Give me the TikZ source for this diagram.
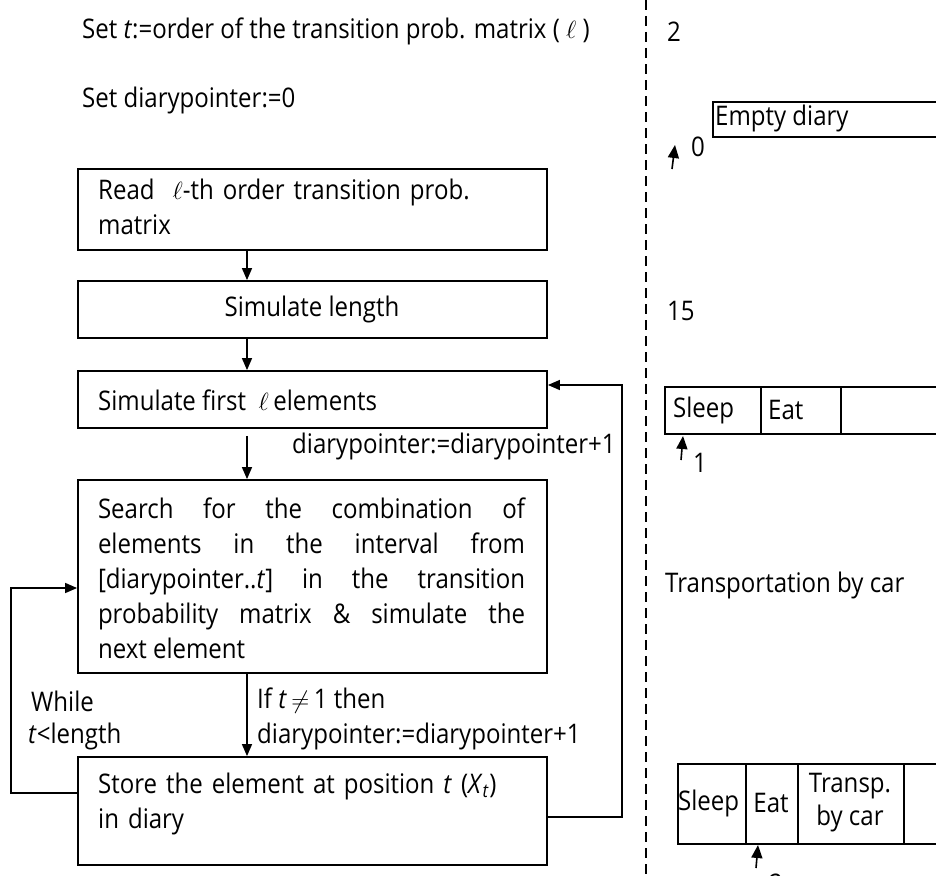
\documentclass[tikz,border=0pt]{standalone}
\usepackage{fontspec}
\setmainfont[FakeStretch=0.89]{Open Sans}
\usetikzlibrary{arrows.meta}
\begin{document}
\begin{tikzpicture}[x=1pt,y=-1pt,
  font=\fontsize{27}{35}\selectfont,
  txt/.style={inner sep=0pt},
  box/.style={draw, line width=1.8pt, minimum width=469pt, inner sep=0pt},
  cell/.style={draw, line width=1.8pt, inner sep=0pt},
  flow/.style={line width=1.4pt, -{Triangle[width=10pt,length=12pt]}},
  ptr/.style={line width=1.6pt, -{Triangle[width=11pt,length=13pt]}},
  dashline/.style={line width=1.6pt, dash pattern=on 10pt off 6pt}]

\useasboundingbox (0,0) rectangle (936,875);
\clip (0,0) rectangle (936,875);

% ---- left column: initialisation lines ----
\node[txt, anchor=west] (sett) at (82,31) {Set \textit{t}:=order of the transition prob. matrix ( $\ell$ )};
\node[txt, anchor=west] (setdp) at (82,100) {Set diarypointer:=0};

% ---- flowchart boxes ----
\node[box, minimum height=81pt] (b1) at (312.5,209.5) {};
\node[box, minimum height=57pt] (b2) at (312.5,309.5) {};
\node[box, minimum height=57pt] (b3) at (312.5,399.5) {};
\node[box, minimum height=193pt] (b4) at (312.5,576.5) {};
\node[box, minimum height=108pt] (b5) at (312.5,811) {};

\node[txt, anchor=west, text width=440pt, align=left] (b1t) at (98,207)
  {Read \ $\ell$-th order transition prob.\\matrix};
\node[txt] (b2t) at (312,309) {Simulate length};
\node[txt, anchor=west] (b3t) at (98,400) {Simulate first \ $\ell$\,elements};
\node[txt, text width=427pt, align=justify] (b4t) at (311.5,578)
  {Search for the combination of\linebreak{}
   elements in the interval from\linebreak{}
   {[}diarypointer..\textit{t}] in the transition\linebreak{}
   probability matrix \& simulate the\linebreak{}
   next element};
\node[txt, anchor=west, text width=440pt, align=left] (b5t) at (98,804)
  {Store the element at position \textit{t} (\textit{X}\textsubscript{\textit{t}})\\in diary};

% ---- connectors ----
\coordinate (spine) at (247,0);
\coordinate (lx) at (11,0);
\coordinate (rx) at (622,0);
\draw[flow] (b1.south -| spine) -- (b2.north -| spine);
\draw[flow] (b2.south -| spine) -- (b3.north -| spine);
\draw[flow] ([yshift=-7pt]b3.south -| spine) -- (b4.north -| spine);
\draw[flow] (b4.south -| spine) -- (b5.north -| spine);
\coordinate (l4) at ([yshift=-11.5pt]b4.west);
\draw[flow] ([yshift=18pt]b5.west) -| (lx |- l4) -- (l4);
\coordinate (r3) at ([yshift=14.5pt]b3.east);
\draw[flow] ([yshift=-6pt]b5.east) -| (rx |- r3) -- (r3);

% ---- connector labels ----
\node[txt, anchor=west] (inc1) at (292,446) {diarypointer:=diarypointer+1};
\node[txt, anchor=west] (cond1) at (257,701) {If \textit{t}\,$\neq$\,1 then};
\node[txt, anchor=west] (cond2) at (257,736) {diarypointer:=diarypointer+1};
\node[txt, anchor=west] (wh1) at (31,701) {While};
\node[txt, anchor=west] (wh2) at (28,736) {\textit{t}<length};

% ---- separator ----
\coordinate (dtop) at (646,0);
\coordinate (dbot) at (646,875);
\draw[dashline] (dtop) -- (dbot);

% ---- right column: diary states ----
\node[txt, anchor=west] (v2) at (667,32) {2};
\node[cell, anchor=north west, minimum width=240pt, minimum height=35pt] (empty) at (712,101) {};
\node[txt, anchor=west] (emptyt) at (715,118) {Empty diary};
\coordinate (p0a) at (672,169);
\coordinate (p0b) at (675,145);
\draw[ptr] (p0a) -- (p0b);
\node[txt, anchor=west] (p0t) at (691,147) {0};

\node[txt, anchor=west] (v15) at (667,311) {15};

\node[cell, anchor=north west, minimum width=96pt, minimum height=47pt] (c21) at (664,386) {};
\node[cell, anchor=north west, minimum width=80pt, minimum height=47pt] (c22) at (760,386) {};
\node[cell, anchor=north west, minimum width=110pt, minimum height=47pt] (c23) at (840,386) {};
\node[txt, anchor=west] (c21t) at (673,410) {Sleep};
\node[txt, anchor=west] (c22t) at (768,410) {Eat};
\coordinate (p1a) at (681,460);
\coordinate (p1b) at (683,436);
\draw[ptr] (p1a) -- (p1b);
\node[txt, anchor=west] (p1t) at (693,463) {1};

\node[txt, anchor=west] (tcar) at (665,585) {Transportation by car};

\node[cell, anchor=north west, minimum width=68pt, minimum height=80pt] (c31) at (677,763) {};
\node[cell, anchor=north west, minimum width=52pt, minimum height=80pt] (c32) at (745,763) {};
\node[cell, anchor=north west, minimum width=106pt, minimum height=80pt] (c33) at (797,763) {};
\node[cell, anchor=north west, minimum width=60pt, minimum height=80pt] (c34) at (903,763) {};
\node[txt, anchor=west] (c31t) at (678,803) {Sleep};
\node[txt] (c32t) at (771,803) {Eat};
\node[txt, align=center, font=\fontsize{27}{33}\selectfont] (c33t) at (850,803) {Transp.\\by car};
\coordinate (p2a) at (756,868);
\coordinate (p2b) at (758,845);
\draw[ptr] (p2a) -- (p2b);
\node[txt, anchor=west] (p2t) at (769,884) {2};
\end{tikzpicture}
\end{document}
